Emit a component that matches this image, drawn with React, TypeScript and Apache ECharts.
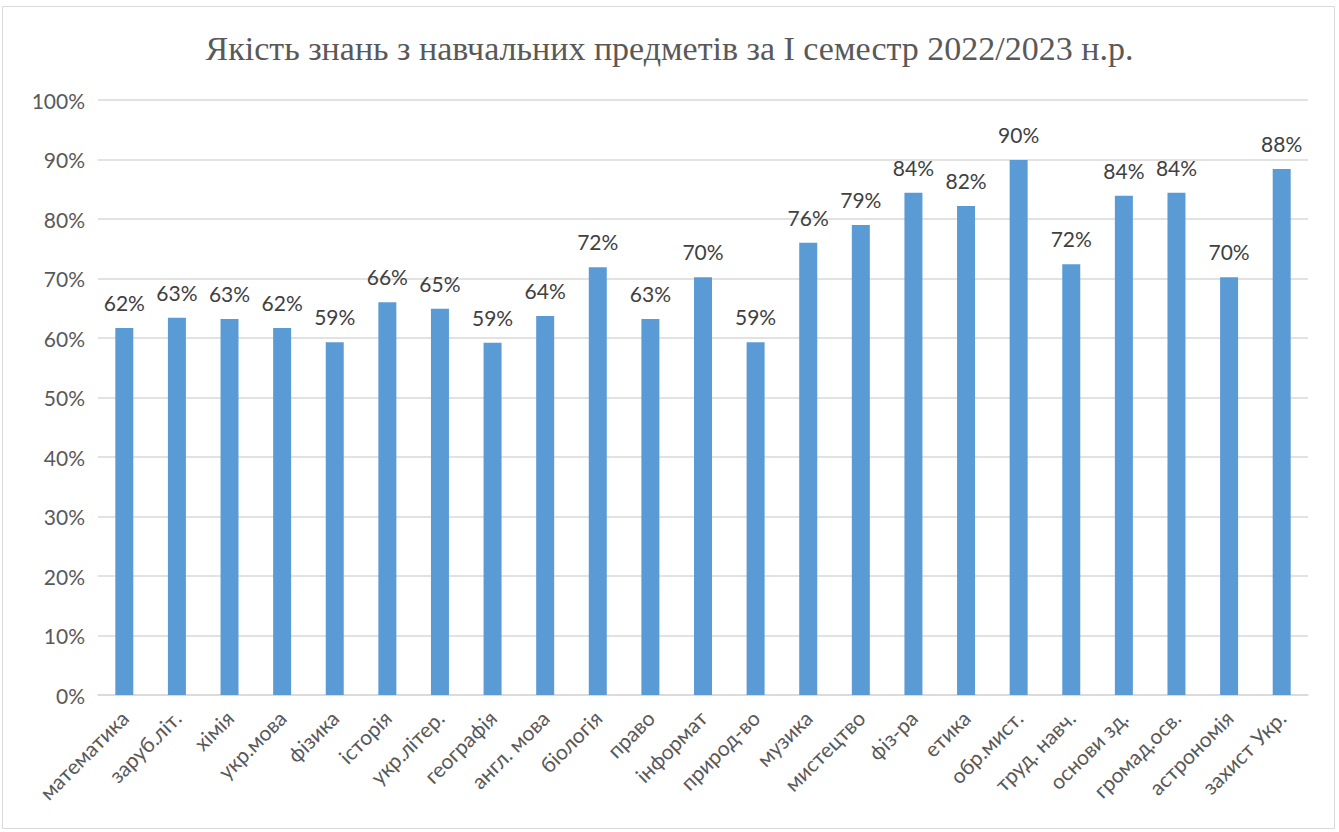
import React, { useEffect, useRef } from "react";
import * as echarts from "echarts";

const categories = [
  "математика", "заруб.літ.", "хімія", "укр.мова", "фізика", "історія", "укр.літер.",
  "географія", "англ. мова", "біологія", "право", "інформат", "природ-во", "музика",
  "мистецтво", "фіз-ра", "етика", "обр.мист.", "труд. навч.", "основи зд.", "громад.осв.",
  "астрономія", "захист Укр.",
];
const values = [
  61.7, 63.4, 63.2, 61.7, 59.3, 66.0, 64.9, 59.2, 63.7, 71.9, 63.2, 70.2, 59.3, 76.0,
  79.0, 84.4, 82.2, 89.9, 72.4, 83.9, 84.4, 70.2, 88.4,
];
const title = "Якість знань з навчальних предметів за I семестр 2022/2023 н.р.";

export default function App() {
  const ref = useRef<HTMLDivElement>(null);
  useEffect(() => {
    document.body.style.margin = "0";
    const chart = echarts.init(ref.current!, null, { renderer: "svg" });
    chart.setOption({
      animation: false,
      backgroundColor: "#ffffff",
      title: {
        text: title,
        left: "center",
        top: 26,
        textStyle: {
          fontFamily: "Liberation Serif",
          fontWeight: "normal",
          fontSize: 34,
          color: "#595959",
        },
      },
      graphic: [
        {
          type: "rect",
          shape: { x: 2.5, y: 6.5, width: 1332, height: 822 },
          style: { fill: "none", stroke: "#d9d9d9", lineWidth: 1 },
          silent: true,
        },
      ],
      grid: { left: 98, right: 31, top: 100, bottom: 137 },
      xAxis: {
        type: "category",
        data: categories,
        axisLine: { lineStyle: { color: "#d9d9d9", width: 1.5 } },
        axisTick: { show: false },
        axisLabel: {
          rotate: 45,
          interval: 0,
          fontFamily: "Lato",
          fontSize: 21,
          color: "#595959",
          margin: 19,
        },
      },
      yAxis: {
        type: "value",
        min: 0,
        max: 100,
        interval: 10,
        axisLine: { show: false },
        axisTick: { show: false },
        splitLine: { lineStyle: { color: "#d9d9d9", width: 1.5 } },
        axisLabel: {
          formatter: "{value}%",
          fontFamily: "Lato",
          fontSize: 21,
          color: "#595959",
          margin: 13,
        },
      },
      series: [
        {
          type: "bar",
          data: values,
          barWidth: 18,
          itemStyle: { color: "#5b9bd5" },
          label: {
            show: true,
            position: "top",
            distance: 15,
            fontFamily: "Lato",
            fontSize: 21,
            color: "#404040",
            formatter: (p: any) => Math.round(p.value) + "%",
          },
        },
      ],
    });
    return () => chart.dispose();
  }, []);
  return <div ref={ref} style={{ width: 1339, height: 832 }} />;
}
